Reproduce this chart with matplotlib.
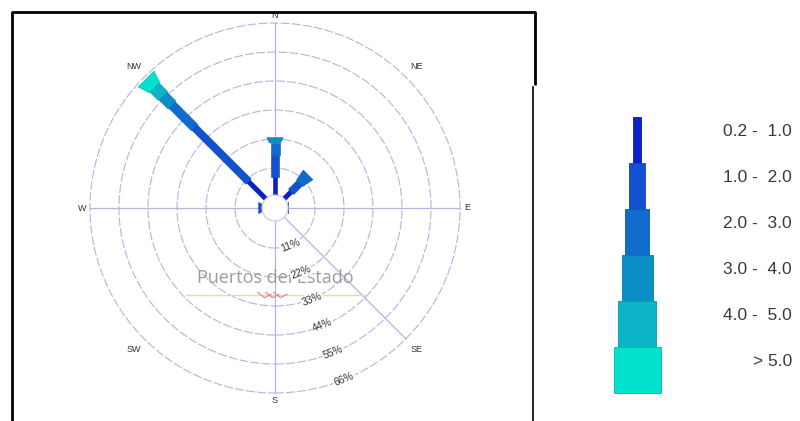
"""
Rosa de oleaje (Hs) — recreación del gráfico de Puertos del Estado
"""

import numpy as np
import matplotlib.pyplot as plt
from matplotlib.patches import Circle, Polygon, Rectangle

plt.rcParams["font.family"] = ["Liberation Sans", "DejaVu Sans"]

# Datos (% de ocurrencia por dirección y clase de Hs)
directions = ["N", "NE", "E", "SE", "S", "SW", "W", "NW"]
bearings = [0, 45, 90, 135, 180, 225, 270, 315]
hs_classes = ["0.2 -  1.0", "1.0 -  2.0", "2.0 -  3.0", "3.0 -  4.0", "4.0 -  5.0", "> 5.0"]
hs_02_10 = [7.5, 4.5, 0.4, 0.0, 0.0, 0.0, 0.8, 10.0]
hs_10_20 = [8.5, 4.6, 0.6, 0.0, 0.0, 0.0, 1.2, 29.0]
hs_20_30 = [4.5, 4.5, 0.0, 0.0, 0.0, 0.0, 0.0, 12.0]
hs_30_40 = [2.0, 0.0, 0.0, 0.0, 0.0, 0.0, 0.0, 5.0]
hs_40_50 = [0.0, 0.0, 0.0, 0.0, 0.0, 0.0, 0.0, 4.5]
hs_50 = [0.0, 0.0, 0.0, 0.0, 0.0, 0.0, 0.0, 4.5]
ring_pct = [11, 22, 33, 44, 55, 66]

classes = [hs_02_10, hs_10_20, hs_20_30, hs_30_40, hs_40_50, hs_50]
colors = ["#0b20c9", "#1450d2", "#106ccc", "#0b8dc6", "#0db4c8", "#00e2cc"]
edges = ["#0a1aa8", "#1042b0", "#0c5aa8", "#0978a6", "#0a98a8", "#00bcaa"]

# Escala: 1 % = 2.636 px, centro de la rosa en (275, 208) px
K = 29 / 11.0
CX, CY = 275, 208
OFF = 11 / K           # hueco central
CALM = 13 / K          # círculo de calmas
bar_w = np.array([4.5, 7.5, 9.0, 11.0, 13.0, 15.0]) / K  # anchura en px -> unidades
FLARE = 1.5

fig = plt.figure(figsize=(8, 4.21), dpi=100)
H = 205
ax = fig.add_axes([(CX - H) / 800, (421 - CY - H) / 421, 2 * H / 800, 2 * H / 421])
ax.set_xlim(-H / K, H / K)
ax.set_ylim(-H / K, H / K)
ax.axis("off")

grid_c = "#b3b4e2"
# Anillos
for p in ring_pct:
    ax.add_patch(Circle((0, 0), OFF + p, fill=False, edgecolor=grid_c, lw=0.8,
                        linestyle=(0, (8, 2)), zorder=1))
# Radios visibles
for b in [0, 90, 180, 270, 135]:
    t = np.radians(b)
    r1 = OFF + ring_pct[-1]
    ax.plot([CALM * np.sin(t), r1 * np.sin(t)], [CALM * np.cos(t), r1 * np.cos(t)],
            color=grid_c, lw=0.9, zorder=1)

# Marca de agua
ax.text(0, -26.5, "Puertos del Estado", fontsize=13, family=["Open Sans", "DejaVu Sans"],
        color="#9c9c9c", ha="center", va="center", zorder=2)
ax.plot([-33.8, 34.0], [-33.0, -33.0], color="#f0d9a8", lw=1.0, zorder=2)
for dx in [-4.0, -1.0, 2.0]:
    ax.plot([dx - 2.5, dx, dx + 2.5], [-32.0, -34.0, -32.8], color="#e58b94", lw=0.9, zorder=2)

# Barras apiladas por dirección
for j, b in enumerate(bearings):
    t = np.radians(b)
    u = np.array([np.sin(t), np.cos(t)])
    pv = np.array([np.cos(t), -np.sin(t)])
    vals = [c[j] for c in classes]
    last = max([i for i, v in enumerate(vals) if v > 0], default=-1)
    r0 = OFF
    for i, v in enumerate(vals):
        if v <= 0:
            continue
        r1 = r0 + v
        h0 = bar_w[i] / 2
        h1 = h0 * (FLARE if i == last else 1.0)
        pts = [r0 * u + h0 * pv, r1 * u + h1 * pv, r1 * u - h1 * pv, r0 * u - h0 * pv]
        ax.add_patch(Polygon(pts, closed=True, facecolor=colors[i], edgecolor=edges[i],
                             lw=0.4, zorder=3 + i * 0.01))
        r0 = r1

ax.add_patch(Circle((0, 0), CALM, facecolor="white", edgecolor="#c8c9ea", lw=0.8, zorder=5))

# Etiquetas de anillos
tb = np.radians(158)
for p in ring_pct:
    r = OFF + p
    ax.text(r * np.sin(tb), r * np.cos(tb), f"{p}%", fontsize=7.5, color="#333333",
            rotation=22, ha="center", va="center", zorder=6,
            bbox=dict(boxstyle="square,pad=0.1", facecolor="white", edgecolor="none"))

# Etiquetas de dirección
for d, b in zip(directions, bearings):
    t = np.radians(b)
    r = 73 if len(d) == 1 else 76
    ax.text(r * np.sin(t), r * np.cos(t), d, fontsize=6.5, color="#333333",
            ha="center", va="center", zorder=6)

# Capa en píxeles: marco y leyenda
ov = fig.add_axes([0, 0, 1, 1])
ov.set_xlim(0, 800)
ov.set_ylim(421, 0)
ov.axis("off")
ov.patch.set_alpha(0)

ov.plot([12, 12, 535, 535], [421, 12, 12, 85], color="black", lw=2, solid_capstyle="butt")
ov.plot([533, 533], [87, 421], color="black", lw=1.2)

leg_w = [8, 16, 24, 31, 38, 47]
for i, (lab, w) in enumerate(zip(hs_classes, leg_w)):
    y = 117 + i * 46
    ov.add_patch(Rectangle((637 - w / 2, y), w, 46, facecolor=colors[i],
                           edgecolor=edges[i], lw=0.6))
    ov.text(792, y + 14, lab, fontsize=12.5, color="#3a3a3a", ha="right", va="center")

plt.savefig("out.png", dpi=100)
